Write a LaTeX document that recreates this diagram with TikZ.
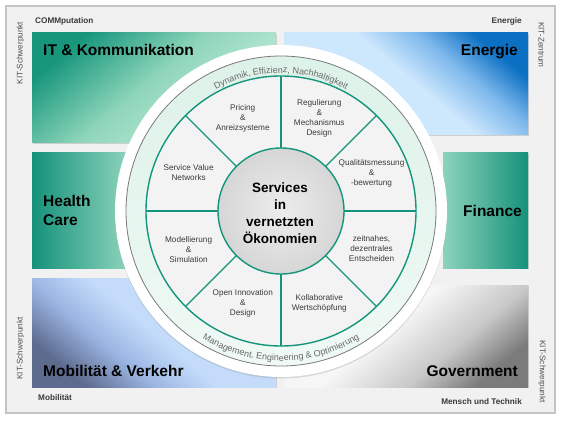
\documentclass[tikz,border=0pt]{standalone}
\usepackage{fontspec}
\setmainfont{Liberation Sans}
\usepackage{tikz}
\usetikzlibrary{shadows, decorations.text}

\definecolor{kitteal}{HTML}{14957B}
\definecolor{framegray}{HTML}{F1F1F1}
\definecolor{framedraw}{HTML}{C4C4C4}
\definecolor{textgray}{HTML}{3A3A3A}
\definecolor{kitgray}{HTML}{505050}
\definecolor{arcgray}{HTML}{6A6A6A}
\definecolor{ringgray}{HTML}{7A7A7A}
\definecolor{bandmint}{HTML}{DDF2E9}
\definecolor{bandlight}{HTML}{F0F9F5}
\definecolor{sectorgray}{HTML}{F3F3F3}
\definecolor{coregray}{HTML}{D6D6D6}
\definecolor{itdark}{HTML}{17967C}
\definecolor{itmid}{HTML}{8FD6BA}
\definecolor{itlight}{HTML}{CBEFDF}
\definecolor{endark}{HTML}{0B6FC2}
\definecolor{enmid}{HTML}{7DB8EC}
\definecolor{enlight}{HTML}{CDE7FD}
\definecolor{hcdark}{HTML}{15917A}
\definecolor{hclight}{HTML}{8DD3BB}
\definecolor{modark}{HTML}{5D6B8F}
\definecolor{momid}{HTML}{9BB5E2}
\definecolor{molight}{HTML}{C4DCFA}
\definecolor{godark}{HTML}{7B7B7B}
\definecolor{gomid}{HTML}{C8C8C8}
\definecolor{golight}{HTML}{F6F6F6}

\pgfdeclareverticalshading{itshade}{100bp}{color(0bp)=(itlight); color(25bp)=(itlight); color(52bp)=(itmid); color(75bp)=(itdark); color(100bp)=(itdark)}
\pgfdeclareverticalshading{enshade}{100bp}{color(0bp)=(enlight); color(25bp)=(enlight); color(52bp)=(enlight); color(64bp)=(enmid); color(75bp)=(endark); color(100bp)=(endark)}
\pgfdeclareverticalshading{moshade}{100bp}{color(0bp)=(molight); color(25bp)=(molight); color(50bp)=(molight); color(62bp)=(momid); color(75bp)=(modark); color(100bp)=(modark)}
\pgfdeclareverticalshading{goshade}{100bp}{color(0bp)=(golight); color(25bp)=(golight); color(45bp)=(golight); color(62bp)=(gomid); color(75bp)=(godark); color(100bp)=(godark)}

\begin{document}
\begin{tikzpicture}[x=1pt, y=1pt,
    fieldbox/.style = {shade, drop shadow={opacity=0.3, shadow xshift=1.2pt, shadow yshift=-1.2pt}},
    fieldtitle/.style = {font=\fontsize{15.5}{18.3}\selectfont\bfseries, text=black, align=left, inner sep=0pt},
    cornerlabel/.style = {font=\fontsize{8.2}{9}\selectfont\bfseries, text=textgray, inner sep=0pt},
    kitlabel/.style = {font=\fontsize{8.2}{9}\selectfont, text=kitgray, inner sep=0pt},
    topiclabel/.style = {font=\fontsize{8.2}{10}\selectfont, text=textgray, align=center, inner sep=0pt},
    arctext/.style = {postaction={decorate}, decoration={text along path, text align=center, text color=arcgray, text={|\fontsize{9}{9}\selectfont|#1}}}]

\useasboundingbox (0,0) rectangle (562,421);
\path[fill=framegray, draw=framedraw, line width=1.5pt] (6,8) rectangle (555,415);

% Felder
\path[fieldbox, shading=itshade, shading angle=40] (32,278) rectangle (276,388);
\path[fieldbox, shading=enshade, shading angle=-40] (284,286) rectangle (528,388);
\path[fieldbox, left color=hcdark, right color=hclight] (32,153) rectangle (128,268);
\path[fieldbox, left color=hclight, right color=hcdark] (443,153) rectangle (528,268);
\path[fieldbox, shading=moshade, shading angle=140] (32,34) rectangle (276,143);
\path[fieldbox, shading=goshade, shading angle=-140] (284,34) rectangle (528,136);

\node[fieldtitle, anchor=base west] (itkom) at (43,365) {IT \& Kommunikation};
\node[fieldtitle, anchor=base east] (energie) at (518,365) {Energie};
\node[fieldtitle, anchor=west] (health) at (43,210.5) {Health\\Care};
\node[fieldtitle, anchor=base east] (finance) at (522,205) {Finance};
\node[fieldtitle, anchor=base west] (mobil) at (43,44.5) {Mobilität \& Verkehr};
\node[fieldtitle, anchor=base east] (govt) at (518,45) {Government};

\node[cornerlabel, anchor=base west] (comm) at (35,397) {COMMputation};
\node[cornerlabel, anchor=base east] (energiesmall) at (522,397) {Energie};
\node[cornerlabel, anchor=base west] (mobilsmall) at (38,21) {Mobilität};
\node[cornerlabel, anchor=base east] (mensch) at (522,17) {Mensch und Technik};
\node[kitlabel, rotate=90] (kittl) at (20.5,368) {KIT-Schwerpunkt};
\node[kitlabel, rotate=90] (kitbl) at (20.5,72.5) {KIT-Schwerpunkt};
\node[kitlabel, rotate=-90] (kitzentrum) at (541.3,376) {KIT-Zentrum};
\node[kitlabel, rotate=-90] (kitbr) at (542,49.3) {KIT-Schwerpunkt};

% Kreis
\begin{scope}[shift={(281,210)}]
\path[fill=white, drop shadow={opacity=0.25, shadow xshift=0pt, shadow yshift=-1.5pt}] (0,0) circle (166);
\path[draw=ringgray, line width=0.8pt, top color=bandmint, bottom color=bandlight] (0,0) circle (155);
\path[fill=sectorgray, draw=kitteal, line width=1.4pt] (0,0) circle (135);
\foreach \a in {0,45,...,315}
  \draw[kitteal, line width=1.3pt] (\a:63) -- (\a:135);
\path[draw=kitteal, line width=1.4pt, inner color=coregray!45!white, outer color=coregray] (0,0) circle (63);

\node[font=\fontsize{13.5}{17}\selectfont\bfseries, align=center, inner sep=0pt] (core) at (-1,-2) {Services\\in\\vernetzten\\Ökonomien};

\node[topiclabel] (pricing) at (112.5:100) {Pricing\\\&\\Anreizsysteme};
\node[topiclabel] (regulierung) at (67.5:100) {Regulierung\\\&\\Mechanismus\\Design};
\node[topiclabel] (qualitaet) at (22.5:98) {Qualitätsmessung\\\&\\-bewertung};
\node[topiclabel] (entscheiden) at (-22.5:98) {zeitnahes,\\dezentrales\\Entscheiden};
\node[topiclabel] (kollaborativ) at (-67.5:100) {Kollaborative\\Wertschöpfung};
\node[topiclabel] (innovation) at (-112.5:100) {Open Innovation\\\&\\Design};
\node[topiclabel] (modellierung) at (-157.5:100) {Modellierung\\\&\\Simulation};
\node[topiclabel] (svn) at (157.5:100) {Service Value\\Networks};

\path[arctext={Dynamik, Effizienz, Nachhaltigkeit}] (120:138) arc[start angle=120, end angle=60, radius=138];
\path[arctext={Management, Engineering {\&} Optimierung}] (-124:150) arc[start angle=-124, end angle=-56, radius=150];
\end{scope}
\end{tikzpicture}
\end{document}
